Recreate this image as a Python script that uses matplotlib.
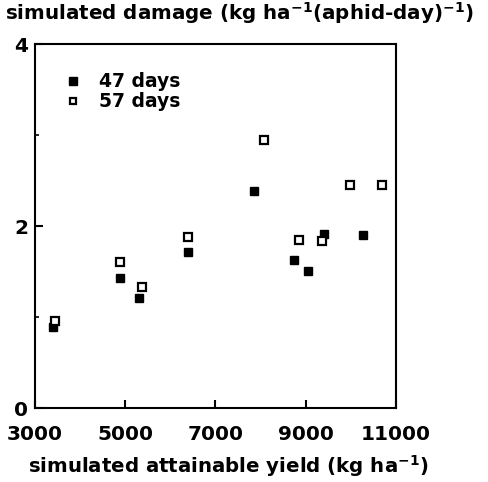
import matplotlib.pyplot as plt

plt.rcParams['font.family'] = ['DejaVu Sans']
plt.rcParams['font.weight'] = 'bold'
plt.rcParams['mathtext.fontset'] = 'custom'
plt.rcParams['mathtext.rm'] = 'DejaVu Sans:bold'
plt.rcParams['mathtext.bf'] = 'DejaVu Sans:bold'

# 47 days (filled squares)
yield_47 = [3400, 4890, 5310, 6400, 7850, 8740, 9050, 9400, 10270]
damage_47 = [0.89, 1.43, 1.21, 1.71, 2.38, 1.63, 1.51, 1.91, 1.90]

# 57 days (open squares)
yield_57 = [3440, 4890, 5380, 6400, 8070, 8850, 9360, 9980, 10690]
damage_57 = [0.96, 1.61, 1.33, 1.88, 2.95, 1.85, 1.84, 2.45, 2.45]

fig = plt.figure(figsize=(4.89, 4.82), dpi=100)
ax = fig.add_axes([0.0716, 0.1535, 0.738, 0.755])

ax.plot(yield_47, damage_47, 's', color='black', markersize=6, markeredgewidth=1,
        label='47 days')
ax.plot(yield_57, damage_57, 's', markerfacecolor='white', markeredgecolor='black',
        markeredgewidth=1.6, markersize=5.3, label='57 days')

ax.set_xlim(3000, 11000)
ax.set_ylim(0, 4)
ax.set_xticks([3000, 5000, 7000, 9000, 11000])
ax.set_yticks([0, 2, 4])
ax.set_yticks([1, 3], minor=True)
ax.tick_params(direction='in', length=6, width=1.5, labelsize=14.5)
ax.tick_params(axis='x', pad=12)
ax.tick_params(axis='y', pad=5)
ax.tick_params(which='minor', direction='in', length=3, width=1.2)
for lab in ax.get_xticklabels() + ax.get_yticklabels():
    lab.set_fontweight('bold')
for s in ax.spines.values():
    s.set_linewidth(1.5)

ax.set_xlabel(r'simulated attainable yield (kg ha$^{-1}$)', fontsize=14.2,
              fontweight='bold')
ax.xaxis.set_label_coords(0.535, -0.125)
fig.text(5 / 489, 1 - 20 / 482, r'simulated damage (kg ha$^{-1}$(aphid-day)$^{-1}$)',
         fontsize=14.3, fontweight='bold', ha='left', va='baseline')

ax.legend(loc='upper left', bbox_to_anchor=(0.079, 0.922), frameon=False,
          borderpad=0, borderaxespad=0, handletextpad=0.9, labelspacing=0.05,
          markerscale=0.85, handlelength=1.0,
          prop={'weight': 'bold', 'size': 13.5})

plt.savefig('out.png', dpi=100)
